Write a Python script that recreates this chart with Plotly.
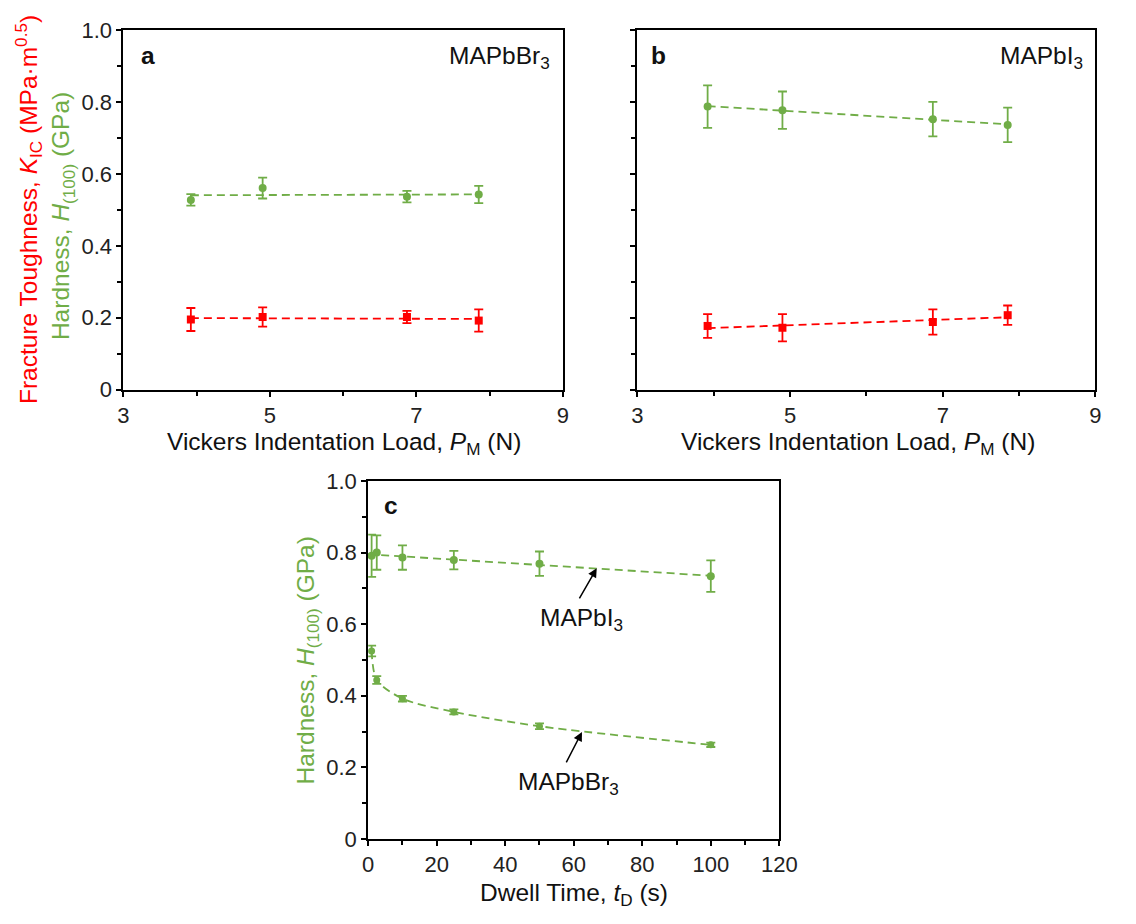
import numpy as np
import plotly.graph_objects as go

# ---------------- data ----------------
load_N = [3.92, 4.90, 6.87, 7.85]

br_hardness = [0.528, 0.561, 0.537, 0.543]
br_hardness_err = [0.016, 0.029, 0.016, 0.024]
br_kic = [0.195, 0.202, 0.202, 0.192]
br_kic_err = [0.032, 0.027, 0.017, 0.031]

i_hardness = [0.788, 0.778, 0.753, 0.737]
i_hardness_err = [0.059, 0.052, 0.048, 0.048]
i_kic = [0.177, 0.172, 0.188, 0.207]
i_kic_err = [0.033, 0.038, 0.035, 0.027]

dwell_s = [1, 2.5, 10, 25, 50, 100]
i_dwell_h = [0.791, 0.800, 0.786, 0.779, 0.769, 0.734]
i_dwell_err = [0.059, 0.048, 0.034, 0.026, 0.034, 0.044]
br_dwell_h = [0.525, 0.444, 0.392, 0.355, 0.315, 0.263]
br_dwell_err = [0.015, 0.011, 0.008, 0.007, 0.008, 0.006]

y_ticks = [0, 0.2, 0.4, 0.6, 0.8, 1.0]
y_ticktext = ["0", "0.2", "0.4", "0.6", "0.8", "1.0"]
load_ticks = [3, 5, 7, 9]
dwell_ticks = [0, 20, 40, 60, 80, 100, 120]

GREEN = "#70AD47"
RED = "#FF0000"
FONT = "Liberation Sans, Arial, sans-serif"
W, H = 1136, 924
TITLE_SIZE = 24.5
TICK_SIZE = 22

def px_x(p):
    return p / W

def px_y(p):
    return 1 - p / H

fig = go.Figure()

def pts(x, y, err, color, symbol, xa, ya, size=8):
    fig.add_trace(go.Scatter(
        x=x, y=y, mode="markers",
        marker=dict(color=color, symbol=symbol, size=size),
        error_y=dict(type="data", array=err, color=color, thickness=1.8, width=4.5),
        xaxis=xa, yaxis=ya, showlegend=False, cliponaxis=False))

def linfit(x, y, color, xa, ya):
    c = np.polyfit(x, y, 1)
    xx = np.array([min(x), max(x)])
    fig.add_trace(go.Scatter(
        x=xx, y=np.polyval(c, xx), mode="lines",
        line=dict(color=color, width=1.8, dash="8px,5px"),
        xaxis=xa, yaxis=ya, showlegend=False, hoverinfo="skip"))

# panel a
linfit(load_N, br_hardness, GREEN, "x", "y")
linfit(load_N, br_kic, RED, "x", "y")
pts(load_N, br_hardness, br_hardness_err, GREEN, "circle", "x", "y")
pts(load_N, br_kic, br_kic_err, RED, "square", "x", "y")
# panel b
linfit(load_N, i_hardness, GREEN, "x2", "y2")
linfit(load_N, i_kic, RED, "x2", "y2")
pts(load_N, i_hardness, i_hardness_err, GREEN, "circle", "x2", "y2")
pts(load_N, i_kic, i_kic_err, RED, "square", "x2", "y2")
# panel c
c = np.polyfit(dwell_s, i_dwell_h, 1)
tt = np.array([0, max(dwell_s)])
fig.add_trace(go.Scatter(x=tt, y=np.polyval(c, tt), mode="lines",
                         line=dict(color=GREEN, width=1.8, dash="8px,5px"),
                         xaxis="x3", yaxis="y3", showlegend=False, hoverinfo="skip"))
fig.add_trace(go.Scatter(x=dwell_s, y=br_dwell_h, mode="lines",
                         line=dict(color=GREEN, width=1.8, dash="8px,5px", shape="spline", smoothing=0.8),
                         xaxis="x3", yaxis="y3", showlegend=False, hoverinfo="skip"))
pts(dwell_s, i_dwell_h, i_dwell_err, GREEN, "circle", "x3", "y3")
pts(dwell_s, br_dwell_h, br_dwell_err, GREEN, "circle", "x3", "y3", size=7)

tickfont = dict(family=FONT, size=TICK_SIZE, color="#222")

def yax(domain, labels=True):
    return dict(domain=domain, range=[0, 1], tickvals=y_ticks, ticktext=y_ticktext,
                showticklabels=labels, ticks="outside", ticklen=5, tickwidth=1.5,
                tickcolor="black", showline=True, linewidth=2, linecolor="black",
                mirror=True, showgrid=False, zeroline=False, tickfont=tickfont,
                minor=dict(ticks="outside", ticklen=4, tick0=0, dtick=0.1,
                           tickcolor="black", tickwidth=1.5, showgrid=False))

def xax(domain, rng, tv, minor_dtick, minor_tick0, anchor):
    return dict(domain=domain, range=rng, tickvals=tv, ticks="outside", ticklen=5,
                tickwidth=1.5, tickcolor="black", showline=True, linewidth=2,
                linecolor="black", mirror=True, showgrid=False, zeroline=False,
                tickfont=tickfont, anchor=anchor,
                minor=dict(ticks="outside", ticklen=4, tick0=minor_tick0, dtick=minor_dtick,
                           tickcolor="black", tickwidth=1.5, showgrid=False))

top_dom = [px_y(388), px_y(19)]
bot_dom = [px_y(850), px_y(482)]

fig.update_layout(
    width=W, height=H, margin=dict(l=0, r=0, t=0, b=0),
    paper_bgcolor="white", plot_bgcolor="white", showlegend=False,
    xaxis=xax([px_x(120), px_x(569)], [3, 9], load_ticks, 1, 3, "y"),
    yaxis=yax(top_dom),
    xaxis2=xax([px_x(645), px_x(1113)], [3, 9], load_ticks, 1, 3, "y2"),
    yaxis2=dict(yax(top_dom, labels=False), anchor="x2"),
    xaxis3=xax([px_x(370), px_x(790)], [0, 120], dwell_ticks, 10, 0, "y3"),
    yaxis3=dict(yax(bot_dom), anchor="x3"),
)
fig.layout.yaxis.anchor = "x"

ann = []
def text(x, y, s, size=TITLE_SIZE, color="#111", xanchor="center", angle=0, xref="paper", yref="paper", bold=False):
    ann.append(dict(x=x, y=y, xref=xref, yref=yref, text=(f"<b>{s}</b>" if bold else s),
                    showarrow=False, xanchor=xanchor, yanchor="middle", textangle=angle,
                    font=dict(family=FONT, size=size, color=color)))

# panel letters and compound labels
text(px_x(136), px_y(45), "a", xanchor="left", bold=True)
text(px_x(558), px_y(47), "MAPbBr<sub>3</sub>", xanchor="right")
text(px_x(657), px_y(45), "b", xanchor="left", bold=True)
text(px_x(1102), px_y(47), "MAPbI<sub>3</sub>", xanchor="right")
text(px_x(384), px_y(507), "c", xanchor="left", bold=True)

# axis titles
xt = "Vickers Indentation Load, <i>P</i><sub>M</sub> (N)"
text(px_x(345), px_y(444), xt)
text(px_x(870), px_y(444), xt)
text(px_x(580), px_y(907), "Dwell Time, <i>t</i><sub>D</sub> (s)")
text(px_x(23), px_y(203), "Fracture Toughness, <i>K</i><sub>IC</sub> (MPa·m<sup>0.5</sup>)",
     color=RED, angle=-90)
text(px_x(58), px_y(210), "Hardness, <i>H</i><sub>(100)</sub> (GPa)", color=GREEN, angle=-90)
text(px_x(308), px_y(666), "Hardness, <i>H</i><sub>(100)</sub> (GPa)", color=GREEN, angle=-90)

# arrows in panel c
for head, tail in [((66.7, 0.756), (61.4, 0.668)), ((62.4, 0.299), (57.6, 0.21))]:
    ann.append(dict(x=head[0], y=head[1], ax=tail[0], ay=tail[1], xref="x3", yref="y3",
                    axref="x3", ayref="y3", text="", showarrow=True, arrowhead=2,
                    arrowsize=1.2, arrowwidth=1.5, arrowcolor="black"))
text(62.3, 0.612, "MAPbI<sub>3</sub>", xref="x3", yref="y3")
text(58.6, 0.155, "MAPbBr<sub>3</sub>", xref="x3", yref="y3")

fig.update_layout(annotations=ann)
fig.write_html("out.html")
